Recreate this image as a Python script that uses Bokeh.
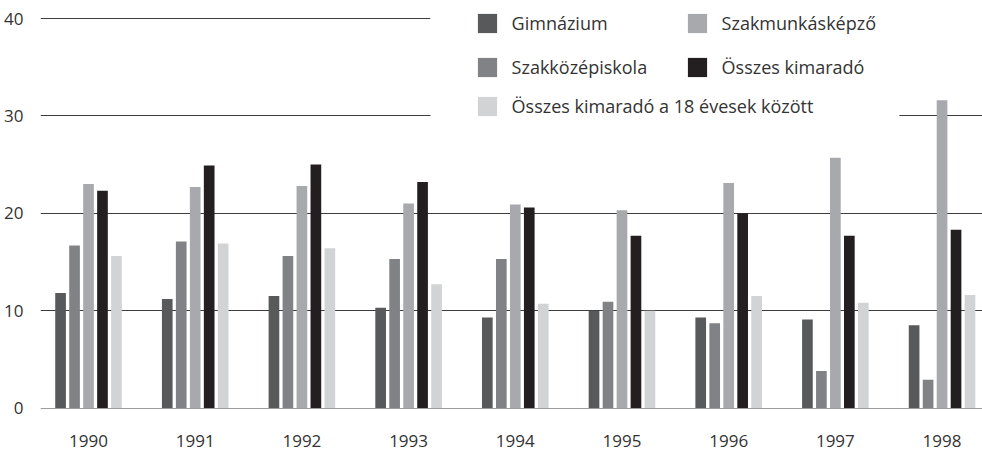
from bokeh.plotting import figure
from bokeh.models import (ColumnDataSource, Range1d, FixedTicker, Legend, LegendItem,
                          BoxAnnotation)
from bokeh.transform import dodge
from bokeh.embed import file_html
from bokeh.resources import INLINE

# ---- data ----
years = [1990, 1991, 1992, 1993, 1994, 1995, 1996, 1997, 1998]
year_labels = ["1990", "1991", "1992", "1993", "1994", "1995", "1996", "1997", "1998"]
gimnazium = [11.8, 11.2, 11.5, 10.3, 9.3, 10.0, 9.3, 9.1, 8.5]
szakkozep = [16.7, 17.1, 15.6, 15.3, 15.3, 10.9, 8.7, 3.8, 2.9]
szakmunkas = [23.0, 22.7, 22.8, 21.0, 20.9, 20.3, 23.1, 25.7, 31.6]
osszes = [22.3, 24.9, 25.0, 23.2, 20.6, 17.7, 20.0, 17.7, 18.3]
osszes18 = [15.6, 16.9, 16.4, 12.7, 10.7, 10.0, 11.5, 10.8, 11.6]
y_ticks = [0, 10, 20, 30, 40]

series_names = ["Gimnázium", "Szakközépiskola", "Szakmunkásképző",
                "Összes kimaradó", "Összes kimaradó a 18 évesek között"]
series_keys = ["gim", "szk", "szm", "ossz", "o18"]
colors = ["#58595b", "#808285", "#a7a9ac", "#231f20", "#d1d3d4"]

source = ColumnDataSource(dict(year=years, gim=gimnazium, szk=szakkozep,
                               szm=szakmunkas, ossz=osszes, o18=osszes18))

FONT = "Open Sans"
TEXT_COLOR = "#333333"

p = figure(width=982, height=453, output_backend="svg", toolbar_location=None,
           x_range=Range1d(1989.55, 1998.379), y_range=Range1d(-0.05, 41.85),
           min_border_left=40, min_border_right=0, min_border_top=0,
           min_border_bottom=45)
p.outline_line_color = None
p.background_fill_color = "white"
p.border_fill_color = "white"

pitch = 0.131
renderers = []
for i, (k, c) in enumerate(zip(series_keys, colors)):
    r = p.vbar(x=dodge("year", (i - 2) * pitch, range=p.x_range), top=k, bottom=0,
               width=0.1, source=source, fill_color=c, line_color=None)
    renderers.append(r)

# axes
p.yaxis.ticker = FixedTicker(ticks=y_ticks)
p.xaxis.ticker = FixedTicker(ticks=years)
p.xaxis.major_label_overrides = {y: l for y, l in zip(years, year_labels)}
for ax in (p.xaxis, p.yaxis):
    ax.axis_line_color = None
    ax.major_tick_line_color = None
    ax.minor_tick_line_color = None
    ax.major_label_text_font = FONT
    ax.major_label_text_font_size = "17px"
    ax.major_label_text_color = TEXT_COLOR
p.yaxis.major_label_standoff = 11
p.xaxis.major_label_standoff = 20

p.xgrid.grid_line_color = None
p.ygrid.ticker = FixedTicker(ticks=y_ticks)
p.ygrid.grid_line_color = "#3d3d3d"
p.ygrid.grid_line_width = 1

# white background behind legend
p.add_layout(BoxAnnotation(left=1993.205, right=1997.60, bottom=29.02,
                           fill_color="white", fill_alpha=1, line_alpha=0))
p.add_layout(BoxAnnotation(left=1993.205, bottom=35.0,
                           fill_color="white", fill_alpha=1, line_alpha=0))

def make_legend(idx, loc):
    lg = Legend(items=[LegendItem(label=series_names[j], renderers=[renderers[j]]) for j in idx],
                location=loc, orientation="horizontal", padding=0, margin=0, spacing=0,
                glyph_width=24, glyph_height=24, label_height=24, label_width=173,
                label_standoff=13, border_line_color=None, background_fill_alpha=0,
                label_text_font=FONT, label_text_font_size="18px",
                label_text_color=TEXT_COLOR)
    p.add_layout(lg)

make_legend([0, 2], (434.6, 373))
make_legend([1, 3], (434.6, 329.3))
make_legend([4], (434.6, 290))

open("out.html", "w").write(file_html(p, INLINE))
